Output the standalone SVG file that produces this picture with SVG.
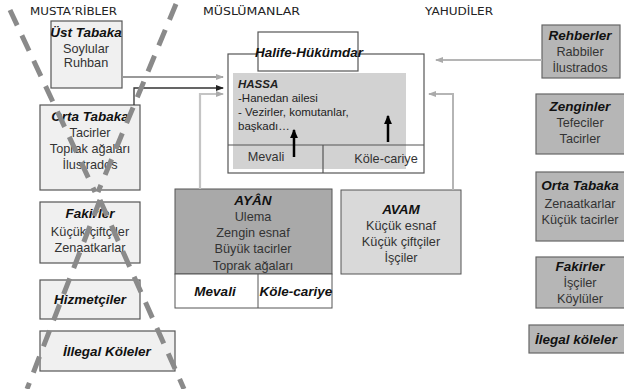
<svg xmlns="http://www.w3.org/2000/svg" width="624" height="389" viewBox="0 0 624 389">
<style>
.hdr{font-family:"DejaVu Sans",sans-serif;font-size:11px;fill:#222}
.t{font-family:"Liberation Sans",Arial,sans-serif;font-size:12.7px;fill:#333;text-anchor:middle}
.b{font-family:"Liberation Sans",Arial,sans-serif;font-size:13.5px;font-weight:bold;font-style:italic;fill:#111;text-anchor:middle}
.s{font-family:"Liberation Sans",Arial,sans-serif;font-size:11.5px;fill:#222}
.lbox{fill:#f0f0f0;stroke:#555;stroke-width:1.2}
.rbox{fill:#b6b6b6;stroke:#666;stroke-width:1.2}
.dash{stroke:#8a8a8a;stroke-width:5;stroke-dasharray:17 11;fill:none}
</style>
<defs>
<marker id="ag" viewBox="0 0 8 8" refX="7" refY="4" markerWidth="8" markerHeight="8" markerUnits="userSpaceOnUse" orient="auto"><path d="M0,1 L8,4 L0,7 z" fill="#aaa"/></marker>
<marker id="ad" viewBox="0 0 8 8" refX="7" refY="4" markerWidth="8" markerHeight="8" markerUnits="userSpaceOnUse" orient="auto"><path d="M0,1 L8,4 L0,7 z" fill="#222"/></marker>
<marker id="ab" viewBox="0 0 8 8" refX="7" refY="4" markerWidth="9" markerHeight="9" markerUnits="userSpaceOnUse" orient="auto"><path d="M0,0.5 L8,4 L0,7.5 z" fill="#000"/></marker>
</defs>
<rect width="624" height="389" fill="#fff"/>

<text class="hdr" x="30" y="15" textLength="87" lengthAdjust="spacingAndGlyphs">MUSTA’RİBLER</text>
<text class="hdr" x="203" y="15" textLength="97" lengthAdjust="spacingAndGlyphs">MÜSLÜMANLAR</text>
<text class="hdr" x="425" y="15" textLength="68" lengthAdjust="spacingAndGlyphs">YAHUDİLER</text>

<!-- Müslümanlar -->
<g id="muslim-container">
<rect x="228" y="54" width="196" height="119" fill="#fff" stroke="#555" stroke-width="1.2"/>
</g>
<g id="hassa">
<rect x="233" y="73" width="173" height="96" fill="#d2d2d2"/>
<text class="s" x="238" y="88" font-weight="bold" font-style="italic" fill="#111" font-size="12.5">HASSA</text>
<text class="s" x="238" y="102">-Hanedan ailesi</text>
<text class="s" x="238" y="116">- Vezirler, komutanlar,</text>
<text class="s" x="238" y="130">başkadı…</text>
<line x1="228" y1="145" x2="424" y2="145" stroke="#555" stroke-width="1.2"/>
<line x1="323" y1="145" x2="323" y2="173" stroke="#555" stroke-width="1.2"/>
<text class="t" x="266" y="161" font-size="13">Mevali</text>
<text class="t" x="386" y="163" font-size="13">Köle-cariye</text>
</g>
<g id="halife">
<rect x="258" y="32" width="100" height="39" fill="#fff" stroke="#555" stroke-width="1.2"/>
<text class="b" x="309" y="57" font-size="12.5">Halife-Hükümdar</text>
</g>

<g id="ayan">
<rect x="175" y="189" width="157" height="85" fill="#a9a9a9" stroke="#555" stroke-width="1"/>
<rect x="175" y="274" width="157" height="34" fill="#fff" stroke="#555" stroke-width="1"/>
<line x1="258" y1="274" x2="258" y2="308" stroke="#555" stroke-width="1"/>
<text class="b" x="253" y="205" font-size="13">AYÂN</text>
<text class="t" x="253" y="221" fill="#222" font-size="13">Ulema</text>
<text class="t" x="253" y="237" fill="#222" font-size="13">Zengin esnaf</text>
<text class="t" x="253" y="253" fill="#222" font-size="13">Büyük tacirler</text>
<text class="t" x="253" y="270" fill="#222" font-size="13">Toprak ağaları</text>
<text class="b" x="215" y="296" font-size="13">Mevali</text>
<text class="b" x="296" y="296" font-size="13">Köle-cariye</text>
</g>

<g id="avam">
<rect x="341" y="190" width="120" height="84" fill="#d9d9d9" stroke="#555" stroke-width="1"/>
<text class="b" x="401" y="214" font-size="13">AVAM</text>
<text class="t" x="401" y="230" font-size="13">Küçük esnaf</text>
<text class="t" x="401" y="246" font-size="13">Küçük çiftçiler</text>
<text class="t" x="401" y="262" font-size="13">İşçiler</text>
</g>

<!-- Musta'ribler -->
<g id="ust-tabaka">
<rect class="lbox" x="51" y="21" width="71" height="67"/>
<text class="b" x="86" y="37">Üst Tabaka</text>
<text class="t" x="86" y="53">Soylular</text>
<text class="t" x="86" y="67">Ruhban</text>
</g>
<g id="orta-tabaka">
<rect class="lbox" x="40" y="105" width="100" height="85"/>
<text class="b" x="90" y="121">Orta Tabaka</text>
<text class="t" x="90" y="137">Tacirler</text>
<text class="t" x="90" y="153">Toprak ağaları</text>
<text class="t" x="90" y="169">İlustrados</text>
</g>
<g id="fakirler-left">
<rect class="lbox" x="40" y="202" width="100" height="61"/>
<text class="b" x="90" y="218">Fakirler</text>
<text class="t" x="90" y="236">Küçük çiftçiler</text>
<text class="t" x="90" y="252">Zenaatkarlar</text>
</g>
<g id="hizmetciler">
<rect class="lbox" x="40" y="280" width="100" height="39"/>
<text class="b" x="90" y="304">Hizmetçiler</text>
</g>
<g id="illegal-koleler">
<rect class="lbox" x="40" y="331" width="135" height="40"/>
<text class="b" x="107" y="356">İllegal Köleler</text>
</g>

<!-- Yahudiler -->
<g id="rehberler">
<rect class="rbox" x="542" y="25" width="78" height="53"/>
<text class="b" x="580" y="40">Rehberler</text>
<text class="t" x="580" y="56">Rabbiler</text>
<text class="t" x="580" y="72">İlustrados</text>
</g>
<g id="zenginler">
<rect class="rbox" x="536" y="94" width="92" height="60"/>
<text class="b" x="580" y="111">Zenginler</text>
<text class="t" x="580" y="127">Tefeciler</text>
<text class="t" x="580" y="143">Tacirler</text>
</g>
<g id="orta-tabaka-right">
<rect class="rbox" x="536" y="172" width="92" height="69"/>
<text class="b" x="580" y="190">Orta Tabaka</text>
<text class="t" x="580" y="208">Zenaatkarlar</text>
<text class="t" x="580" y="224">Küçük tacirler</text>
</g>
<g id="fakirler-right">
<rect class="rbox" x="536" y="257" width="92" height="51"/>
<text class="b" x="580" y="271">Fakirler</text>
<text class="t" x="580" y="287">İşçiler</text>
<text class="t" x="580" y="303">Köylüler</text>
</g>
<g id="ilegal-koleler-right">
<rect class="rbox" x="529" y="325" width="99" height="28"/>
<text class="b" x="576" y="344">İlegal köleler</text>
</g>

<!-- connectors -->
<g id="connectors" fill="none">
<path d="M122,77 H223" stroke="#999" stroke-width="2" marker-end="url(#ag)"/>
<path d="M134,105 V88 H223" stroke="#333" stroke-width="1.3" marker-end="url(#ad)"/>
<path d="M200,189 V94 H223" stroke="#c4c4c4" stroke-width="2.2" marker-end="url(#ag)"/>
<path d="M542,60 H436" stroke="#b5b5b5" stroke-width="2" marker-end="url(#ag)"/>
<path d="M453,190 V94 H429" stroke="#b5b5b5" stroke-width="2" marker-end="url(#ag)"/>
<path d="M294,157 V130" stroke="#000" stroke-width="2.5" marker-end="url(#ab)"/>
<path d="M388,142 V116" stroke="#000" stroke-width="2.5" marker-end="url(#ab)"/>
</g>

<!-- dashed hourglass -->
<line class="dash" x1="10" y1="10" x2="95" y2="192"/>
<line class="dash" x1="176" y1="4" x2="98" y2="192"/>
<line class="dash" x1="100" y1="200" x2="27" y2="389"/>
<line class="dash" x1="100" y1="200" x2="184" y2="389"/>
</svg>
